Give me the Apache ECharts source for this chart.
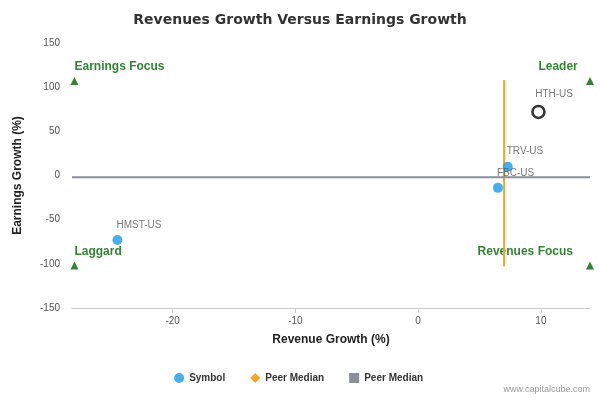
<!DOCTYPE html>
<html lang="en">
<head>
<meta charset="UTF-8">
<title>Revenues Growth Versus Earnings Growth</title>
<script src="https://cdn.jsdelivr.net/npm/echarts@6/dist/echarts.min.js"></script>
</head>
<body style="margin:0">
<div id="main" style="width:600px;height:400px"></div>
<script>
var names = ["HMST-US", "FBC-US", "TRV-US", "HTH-US"];
var revenueGrowth = [-24.5, 6.5, 7.3, 9.8];
var earningsGrowth = [-73, -14, 10, 72];
var xTicks = [-20, -10, 0, 10];
var medianX = 7, medianY = -2;
var xMin = -28.2, xMax = 14;
var quadrants = [
  {name: "Earnings Focus", x: -28, y: 107, pos: "right"},
  {name: "Leader", x: 14, y: 107, pos: "left"},
  {name: "Laggard", x: -28, y: -102, pos: "right"},
  {name: "Revenues Focus", x: 14, y: -102, pos: "left"}
];

var myChart = echarts.init(document.getElementById("main"));
var pts = names.map(function (n, i) {
  var p = {value: [revenueGrowth[i], earningsGrowth[i]], name: n};
  if (n === "HTH-US") {
    p.symbolSize = 12;
    p.itemStyle = {color: "#fff", borderColor: "#000", borderWidth: 2.5};
  }
  return p;
});
myChart.setOption({
  animation: false,
  title: {text: "Revenues Growth Versus Earnings Growth", left: "center", top: 8,
    textStyle: {fontSize: 14, fontWeight: "bold", color: "#333", fontFamily: "Verdana, DejaVu Sans"}},
  legend: {bottom: 12, itemGap: 25, itemWidth: 10, itemHeight: 10,
    textStyle: {fontSize: 10, fontWeight: "bold", color: "#333"},
    data: [{name: "Symbol", icon: "circle"}, {name: "Peer Median", icon: "diamond"}, {name: "Peer Median ", icon: "rect"}]},
  graphic: [{type: "text", right: 10, bottom: 6, style: {text: "www.capitalcube.com", fontSize: 9, fill: "#999"}}],
  grid: {left: 72, right: 10, top: 43, bottom: 92},
  xAxis: {type: "value", min: xMin, max: xMax, name: "Revenue Growth (%)", nameLocation: "middle", nameGap: 26,
    nameTextStyle: {fontWeight: "bold", fontSize: 12, color: "#222"},
    splitLine: {show: false}, axisLine: {onZero: false, lineStyle: {color: "#ccc"}},
    axisTick: {customValues: xTicks, lineStyle: {color: "#ccc"}},
    axisLabel: {customValues: xTicks, color: "#555", fontSize: 10}},
  yAxis: {type: "value", min: -150, max: 150, interval: 50, name: "Earnings Growth (%)", nameLocation: "middle", nameGap: 48,
    nameTextStyle: {fontWeight: "bold", fontSize: 12, color: "#222"},
    splitLine: {show: false}, axisLine: {show: false}, axisTick: {show: false},
    axisLabel: {color: "#555", fontSize: 10, margin: 12}},
  series: [
    {name: "Symbol", type: "scatter", symbolSize: 10, itemStyle: {color: "#1a9be8"}, data: pts,
      label: {show: true, position: [4, -15], formatter: "{b}", fontSize: 10, color: "#555"}, z: 5},
    {name: "Peer Median", type: "line", symbol: "none", color: "#f5a623", lineStyle: {color: "#f5a623", width: 2},
      data: [[medianX, -103], [medianX, 108]]},
    {name: "Peer Median ", type: "line", symbol: "none", color: "#8a8f9c", lineStyle: {color: "#8a8f9c", width: 2},
      data: [[xMin, medianY], [xMax, medianY]]},
    {name: "Quadrant", type: "scatter", symbol: "triangle", symbolSize: 8, itemStyle: {color: "#006400"},
      data: quadrants.map(function (q) {
        return {value: [q.x, q.y], name: q.name,
          label: {show: true, position: q.pos === "right" ? [4, -16] : [-q.name.length * 7.6 - 2, -16]}};
      }),
      label: {formatter: "{b}", fontWeight: "bold", fontSize: 12, color: "#006400"}}
  ]
});
</script>
</body>
</html>
